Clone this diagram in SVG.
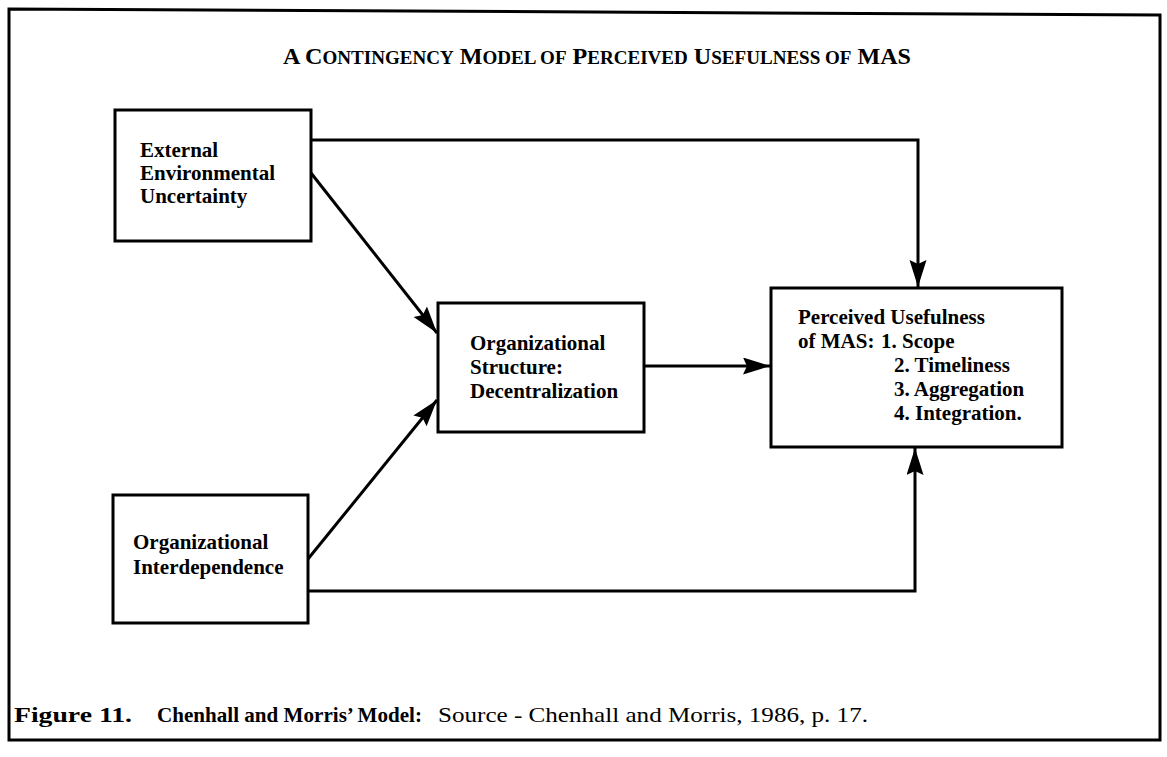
<svg xmlns="http://www.w3.org/2000/svg" width="1167" height="757" viewBox="0 0 1167 757">
<style>
.box{fill:#fff;stroke:#000;stroke-width:3}
.lbl{font-family:"Liberation Serif","DejaVu Serif",serif;font-weight:bold;font-size:21px;fill:#000}
.conn{fill:none;stroke:#000;stroke-width:3}
.frame{fill:none;stroke:#000;stroke-width:3}
.cap{font-family:"Liberation Serif","DejaVu Serif",serif;font-size:21px;fill:#000}
</style>
<defs>
<marker id="ah" markerUnits="userSpaceOnUse" markerWidth="28" markerHeight="18" refX="27" refY="8.5" orient="auto">
<path d="M0,0 L27,8.5 L0,17 L4,8.5 z" fill="#000"/>
</marker>
</defs>
<rect width="1167" height="757" fill="#fff"/>
<g id="frame">
<path class="frame" d="M9,740 L9,9 L1160,15 L1160,740 Z"/>
</g>
<g id="title">
<text x="283" y="64" textLength="628" lengthAdjust="spacingAndGlyphs" font-family="'Liberation Serif','DejaVu Serif',serif" font-weight="bold" font-size="24">A C<tspan font-size="19">ONTINGENCY</tspan> M<tspan font-size="19">ODEL OF</tspan> P<tspan font-size="19">ERCEIVED</tspan> U<tspan font-size="19">SEFULNESS OF</tspan> MAS</text>
</g>
<g id="connectors">
<path class="conn" d="M311,140 L918,140 L918,287" marker-end="url(#ah)"/>
<path class="conn" d="M311,173 L437,333" marker-end="url(#ah)"/>
<path class="conn" d="M308,559 L437,400" marker-end="url(#ah)"/>
<path class="conn" d="M644,366 L770,366" marker-end="url(#ah)"/>
<path class="conn" d="M308,591 L915,591 L915,448" marker-end="url(#ah)"/>
</g>
<g id="node-external">
<rect class="box" x="115" y="110" width="196" height="131"/>
<text class="lbl" x="140" y="157">External</text>
<text class="lbl" x="140" y="180">Environmental</text>
<text class="lbl" x="140" y="203">Uncertainty</text>
</g>
<g id="node-structure">
<rect class="box" x="438" y="303" width="206" height="129"/>
<text class="lbl" x="470" y="350">Organizational</text>
<text class="lbl" x="470" y="374">Structure:</text>
<text class="lbl" x="470" y="398">Decentralization</text>
</g>
<g id="node-usefulness">
<rect class="box" x="771" y="288" width="291" height="159"/>
<text class="lbl" x="798" y="324">Perceived Usefulness</text>
<text class="lbl" x="798" y="348">of MAS:</text>
<text class="lbl" x="881" y="348">1. Scope</text>
<text class="lbl" x="894" y="372">2. Timeliness</text>
<text class="lbl" x="894" y="396">3. Aggregation</text>
<text class="lbl" x="894" y="420">4. Integration.</text>
</g>
<g id="node-interdependence">
<rect class="box" x="113" y="495" width="195" height="128"/>
<text class="lbl" x="133" y="549">Organizational</text>
<text class="lbl" x="133" y="574">Interdependence</text>
</g>
<g id="caption">
<text class="cap" x="14" y="722" font-weight="bold" textLength="118" lengthAdjust="spacingAndGlyphs">Figure 11.</text>
<text class="cap" x="157" y="722" font-weight="bold" textLength="265" lengthAdjust="spacingAndGlyphs">Chenhall and Morris’ Model:</text>
<text class="cap" x="438" y="722" textLength="430" lengthAdjust="spacingAndGlyphs">Source - Chenhall and Morris, 1986, p. 17.</text>
</g>
</svg>
